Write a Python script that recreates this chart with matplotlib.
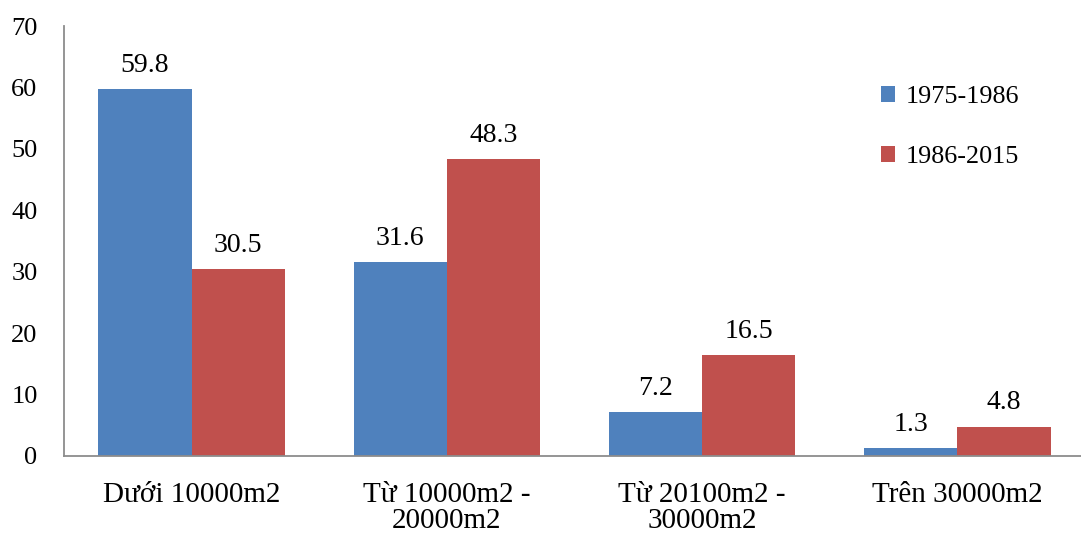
import matplotlib
matplotlib.use("Agg")
import matplotlib.pyplot as plt
import numpy as np

categories = ["Dưới 10000m2", "Từ 10000m2 -\n20000m2", "Từ 20100m2 -\n30000m2", "Trên 30000m2"]
series_names = ["1975-1986", "1986-2015"]
values_1975_1986 = [59.8, 31.6, 7.2, 1.3]
values_1986_2015 = [30.5, 48.3, 16.5, 4.8]
yticks = [0, 10, 20, 30, 40, 50, 60, 70]

colors = ["#4F81BD", "#C0504D"]

plt.rcParams["font.family"] = ["Liberation Serif", "DejaVu Serif"]

fig = plt.figure(figsize=(10.81, 5.35), dpi=100)
ax = fig.add_axes([64 / 1081, 79 / 535, 1021 / 1081, 430 / 535])

x = np.arange(len(categories))
width = 0.365

for i, (vals, name) in enumerate(zip([values_1975_1986, values_1986_2015], series_names)):
    offset = (i - 0.5) * width
    ax.bar(x + offset, vals, width, color=colors[i], label=name, zorder=2)
    for xi, v in zip(x + offset, vals):
        ax.annotate(f"{v:.1f}", (xi, v), xytext=(0, 8), textcoords="offset points",
                    ha="center", va="bottom", fontsize=20)

ax.set_xlim(-0.5, len(categories) - 0.5)
ax.set_ylim(0, 70)
ax.set_yticks(yticks)
ax.set_yticklabels([str(t) for t in yticks], fontsize=19)
ax.set_xticks(x)
ax.set_xticklabels(categories, fontsize=21, linespacing=1.0, va="top")

ax.tick_params(axis="y", length=0, pad=19)
ax.tick_params(axis="x", length=0, pad=19)

for side in ["top", "right"]:
    ax.spines[side].set_visible(False)
for side in ["left", "bottom"]:
    ax.spines[side].set_color("#8C8C8C")
    ax.spines[side].set_linewidth(1.3)

leg = ax.legend(loc="upper left", bbox_to_anchor=(793 / 1021, 0.915), frameon=False,
                fontsize=18.8, handlelength=0.55, handleheight=0.55, handletextpad=0.4,
                labelspacing=1.45)

fig.savefig("out.png", dpi=100)
